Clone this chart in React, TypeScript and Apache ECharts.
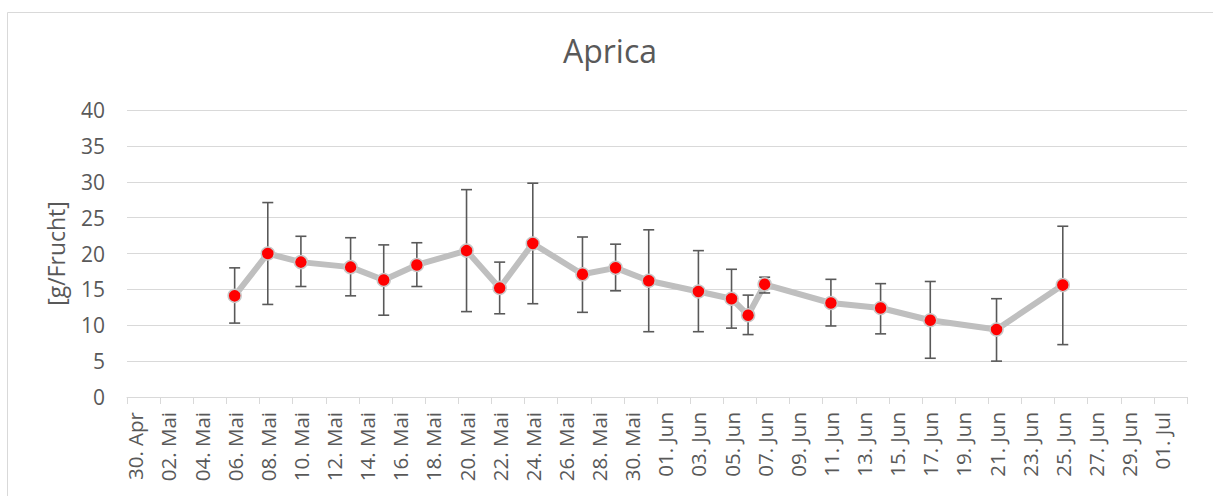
import React, { useEffect, useRef } from "react";
import * as echarts from "echarts";

// Day slots of the date axis (30 Apr .. 02 Jul)
const dayLabels: string[] = [
  "30. Apr",
  "01. Mai", "02. Mai", "03. Mai", "04. Mai", "05. Mai", "06. Mai", "07. Mai", "08. Mai", "09. Mai", "10. Mai",
  "11. Mai", "12. Mai", "13. Mai", "14. Mai", "15. Mai", "16. Mai", "17. Mai", "18. Mai", "19. Mai", "20. Mai",
  "21. Mai", "22. Mai", "23. Mai", "24. Mai", "25. Mai", "26. Mai", "27. Mai", "28. Mai", "29. Mai", "30. Mai", "31. Mai",
  "01. Jun", "02. Jun", "03. Jun", "04. Jun", "05. Jun", "06. Jun", "07. Jun", "08. Jun", "09. Jun", "10. Jun",
  "11. Jun", "12. Jun", "13. Jun", "14. Jun", "15. Jun", "16. Jun", "17. Jun", "18. Jun", "19. Jun", "20. Jun",
  "21. Jun", "22. Jun", "23. Jun", "24. Jun", "25. Jun", "26. Jun", "27. Jun", "28. Jun", "29. Jun", "30. Jun",
  "01. Jul", "02. Jul",
];

// Sampling dates
const sampleDates: string[] = [
  "06. Mai", "08. Mai", "10. Mai", "13. Mai", "15. Mai", "17. Mai", "20. Mai", "22. Mai", "24. Mai", "27. Mai",
  "29. Mai", "31. Mai", "03. Jun", "05. Jun", "06. Jun", "07. Jun", "11. Jun", "14. Jun", "17. Jun", "21. Jun", "25. Jun",
];

// Mean fruit weight [g/Frucht]
const meanValues: number[] = [
  14.1, 20.0, 18.8, 18.1, 16.3, 18.4, 20.4, 15.2, 21.4, 17.1,
  18.0, 16.2, 14.7, 13.7, 11.4, 15.7, 13.1, 12.4, 10.7, 9.4, 15.6,
];

// Error bar lower / upper ends
const lowerValues: number[] = [
  10.3, 12.9, 15.4, 14.1, 11.4, 15.4, 11.9, 11.6, 13.0, 11.8,
  14.8, 9.1, 9.1, 9.6, 8.7, 14.5, 9.9, 8.8, 5.4, 5.0, 7.3,
];
const upperValues: number[] = [
  18.0, 27.1, 22.4, 22.2, 21.2, 21.5, 28.9, 18.8, 29.8, 22.3,
  21.3, 23.3, 20.4, 17.8, 14.2, 16.7, 16.4, 15.8, 16.1, 13.7, 23.8,
];

const yMin = 0;
const yMax = 40;
const yStep = 5;

const FONT = "'Open Sans', 'Noto Sans', sans-serif";
const TEXT = "#595959";
const GRID = "#d9d9d9";

export default function App() {
  const ref = useRef<HTMLDivElement>(null);

  useEffect(() => {
    if (!ref.current) return;
    const chart = echarts.init(ref.current, null, { renderer: "svg" });

    const points = sampleDates.map((d, i) => [d, meanValues[i]]);
    const bars = sampleDates.map((d, i) => [d, lowerValues[i], upperValues[i]]);

    chart.setOption({
      animation: false,
      backgroundColor: "#ffffff",
      textStyle: { fontFamily: FONT },
      title: {
        text: "Aprica",
        left: 610,
        textAlign: "center",
        top: 34,
        padding: 0,
        textStyle: { fontSize: 32, color: TEXT, fontWeight: "normal", fontFamily: FONT },
      },
      graphic: [
        {
          type: "rect",
          silent: true,
          shape: { x: 7.5, y: 12.5, width: 1300, height: 600 },
          style: { fill: "none", stroke: GRID, lineWidth: 1 },
        },
      ],
      grid: { left: 127, right: 26, top: 110, bottom: 99, containLabel: false },
      xAxis: {
        type: "category",
        data: dayLabels,
        boundaryGap: true,
        axisLine: { show: true, lineStyle: { color: GRID, width: 1 } },
        axisTick: { show: true, interval: 1, length: 7, lineStyle: { color: GRID } },
        axisLabel: {
          interval: 1,
          rotate: 90,
          margin: 15,
          color: TEXT,
          fontSize: 20.5,
          fontFamily: FONT,
        },
        splitLine: { show: false },
      },
      yAxis: {
        type: "value",
        min: yMin,
        max: yMax,
        interval: yStep,
        name: "[g/Frucht]",
        nameLocation: "middle",
        nameRotate: 90,
        nameGap: 60,
        nameTextStyle: { color: TEXT, fontSize: 23, fontFamily: FONT },
        axisLine: { show: false },
        axisTick: { show: false },
        axisLabel: { color: TEXT, fontSize: 21, margin: 22, fontFamily: FONT },
        splitLine: { show: true, lineStyle: { color: GRID, width: 1 } },
      },
      series: [
        {
          type: "line",
          data: points,
          symbol: "none",
          connectNulls: true,
          lineStyle: { color: "#bfbfbf", width: 6, cap: "round", join: "round" },
          z: 1,
        },
        {
          type: "custom",
          data: bars,
          encode: { x: 0, y: [1, 2] },
          z: 2,
          renderItem: (params: any, api: any) => {
            const x = api.value(0);
            const lo = api.coord([x, api.value(1)]);
            const hi = api.coord([x, api.value(2)]);
            const w = 5.5;
            const style = { stroke: "#595959", lineWidth: 1.6 };
            return {
              type: "group",
              children: [
                { type: "line", shape: { x1: lo[0], y1: lo[1], x2: hi[0], y2: hi[1] }, style },
                { type: "line", shape: { x1: hi[0] - w, y1: hi[1], x2: hi[0] + w, y2: hi[1] }, style },
                { type: "line", shape: { x1: lo[0] - w, y1: lo[1], x2: lo[0] + w, y2: lo[1] }, style },
              ],
            };
          },
        },
        {
          type: "scatter",
          data: points,
          symbol: "circle",
          symbolSize: 13,
          itemStyle: { color: "#ff0000", borderColor: "#c8c8c8", borderWidth: 1.5, opacity: 1 },
          z: 3,
        },
      ],
    });

    return () => chart.dispose();
  }, []);

  return (
    <div
      style={{
        position: "fixed",
        left: 0,
        top: 0,
        width: 1213,
        height: 496,
        overflow: "hidden",
        background: "#ffffff",
      }}
    >
      <div ref={ref} style={{ width: 1213, height: 496 }} />
    </div>
  );
}
